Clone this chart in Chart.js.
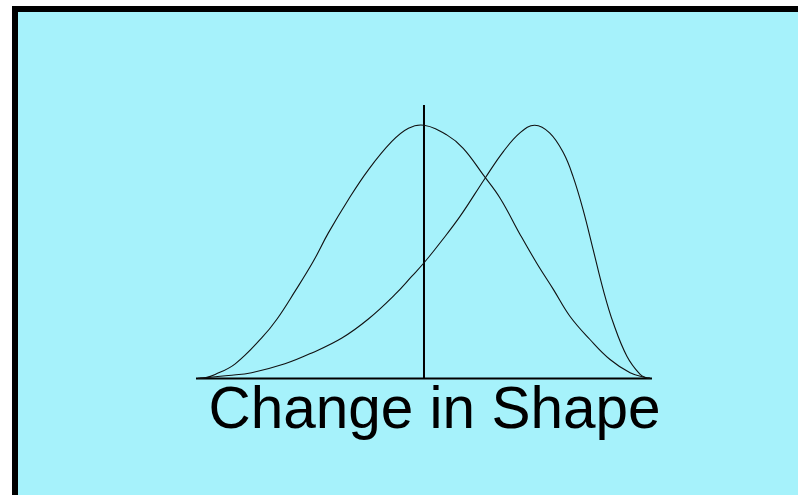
<!DOCTYPE html>
<html>
<head>
<meta charset="utf-8">
<title>Change in Shape</title>
<script src="https://cdn.jsdelivr.net/npm/chart.js@4/dist/chart.umd.min.js"></script>
<style>
  html, body { margin: 0; padding: 0; background: #fff; }
  body { width: 798px; height: 495px; position: relative; overflow: hidden; }
  #panel {
    position: absolute; left: 12px; top: 6px; right: 0; bottom: 0;
    border-left: 6px solid #000; border-top: 6px solid #000;
    background: #a6f2fb;
  }
  #myChart { position: absolute; left: 0; top: 0; }
</style>
</head>
<body>
<div id="panel"></div>
<canvas id="myChart" width="798" height="495"></canvas>
<script>
'use strict';

// original distribution (symmetric bell)
let beforeX = [0.4, 2.0, 4.2, 8.6, 14.4, 17.7, 21.7, 25.7, 29.0, 33.4, 37.8, 42.9, 46.6, 50.0,
  55.0, 58.6, 63.0, 66.7, 71.1, 74.7, 78.4, 82.0, 86.4, 90.8, 95.2, 98.8, 99.6];
let beforeY = [0.1, 0.3, 1.6, 5.8, 16.0, 23.3, 34.4, 46.2, 57.4, 70.6, 82.4, 93.5, 98.8, 100,
  96.2, 90.9, 80.4, 71.2, 56.8, 45.6, 35.1, 24.6, 15.4, 7.5, 2.3, 0.3, 0.1];

// new distribution (skewed to the right)
let afterX = [0.9, 7.1, 12.2, 19.5, 25.4, 32.0, 37.8, 43.6, 47.3, 50.2, 53.5, 57.9, 63.4, 67.4,
  71.1, 74.3, 77.6, 80.6, 82.7, 84.9, 87.1, 89.3, 91.5, 94.5, 97.4, 98.8, 99.6];
let afterY = [0.1, 1.2, 2.3, 5.8, 10.1, 16.0, 23.5, 33.1, 40.3, 46.1, 53.5, 64.0, 79.1, 89.6,
  97.1, 100, 96.9, 89.0, 79.7, 66.6, 50.9, 35.1, 22.0, 8.8, 1.6, 0.3, 0.1];

// horizontal axis line and the marker at the old mean
let baseX = [0, 100];
let baseY = [0, 0];
let meanX = [50, 50];
let meanY = [0, 108];

let titleText = 'Change in Shape';

function toPoints(xs, ys){
  let pts = [];
  for (let i = 0; i < xs.length; i++){
    pts.push({x: xs[i], y: ys[i]});
  }
  return pts;
}

let ctx = document.getElementById('myChart').getContext('2d');
new Chart(ctx, {
  type: 'line',
  data: {
    datasets: [{
      label: 'before',
      data: toPoints(beforeX, beforeY),
      borderColor: '#111',
      borderWidth: 1.1,
      pointRadius: 0,
      tension: 0.4,
      clip: false
    },{
      label: 'after',
      data: toPoints(afterX, afterY),
      borderColor: '#111',
      borderWidth: 1.1,
      pointRadius: 0,
      tension: 0.4,
      clip: false
    },{
      label: 'base',
      data: toPoints(baseX, baseY),
      borderColor: '#000',
      borderWidth: 2,
      pointRadius: 0,
      clip: false
    },{
      label: 'mean',
      data: toPoints(meanX, meanY),
      borderColor: '#000',
      borderWidth: 2,
      pointRadius: 0,
      clip: false
    }]
  },
  options: {
    responsive: false,
    animation: false,
    devicePixelRatio: 1,
    layout: {
      padding: {left: 196, right: 125, top: 105, bottom: 0}
    },
    scales: {
      x: {type: 'linear', min: 0, max: 104.61, display: false},
      y: {min: 0, max: 108, display: false}
    },
    plugins: {
      legend: {display: false},
      tooltip: {enabled: false},
      title: {
        display: true,
        position: 'bottom',
        text: titleText,
        color: '#000',
        font: {family: '"Liberation Sans", Arial, sans-serif', size: 58.5, weight: 'normal', lineHeight: 1},
        padding: {top: 4, bottom: 54}
      }
    }
  }
});
</script>
</body>
</html>
